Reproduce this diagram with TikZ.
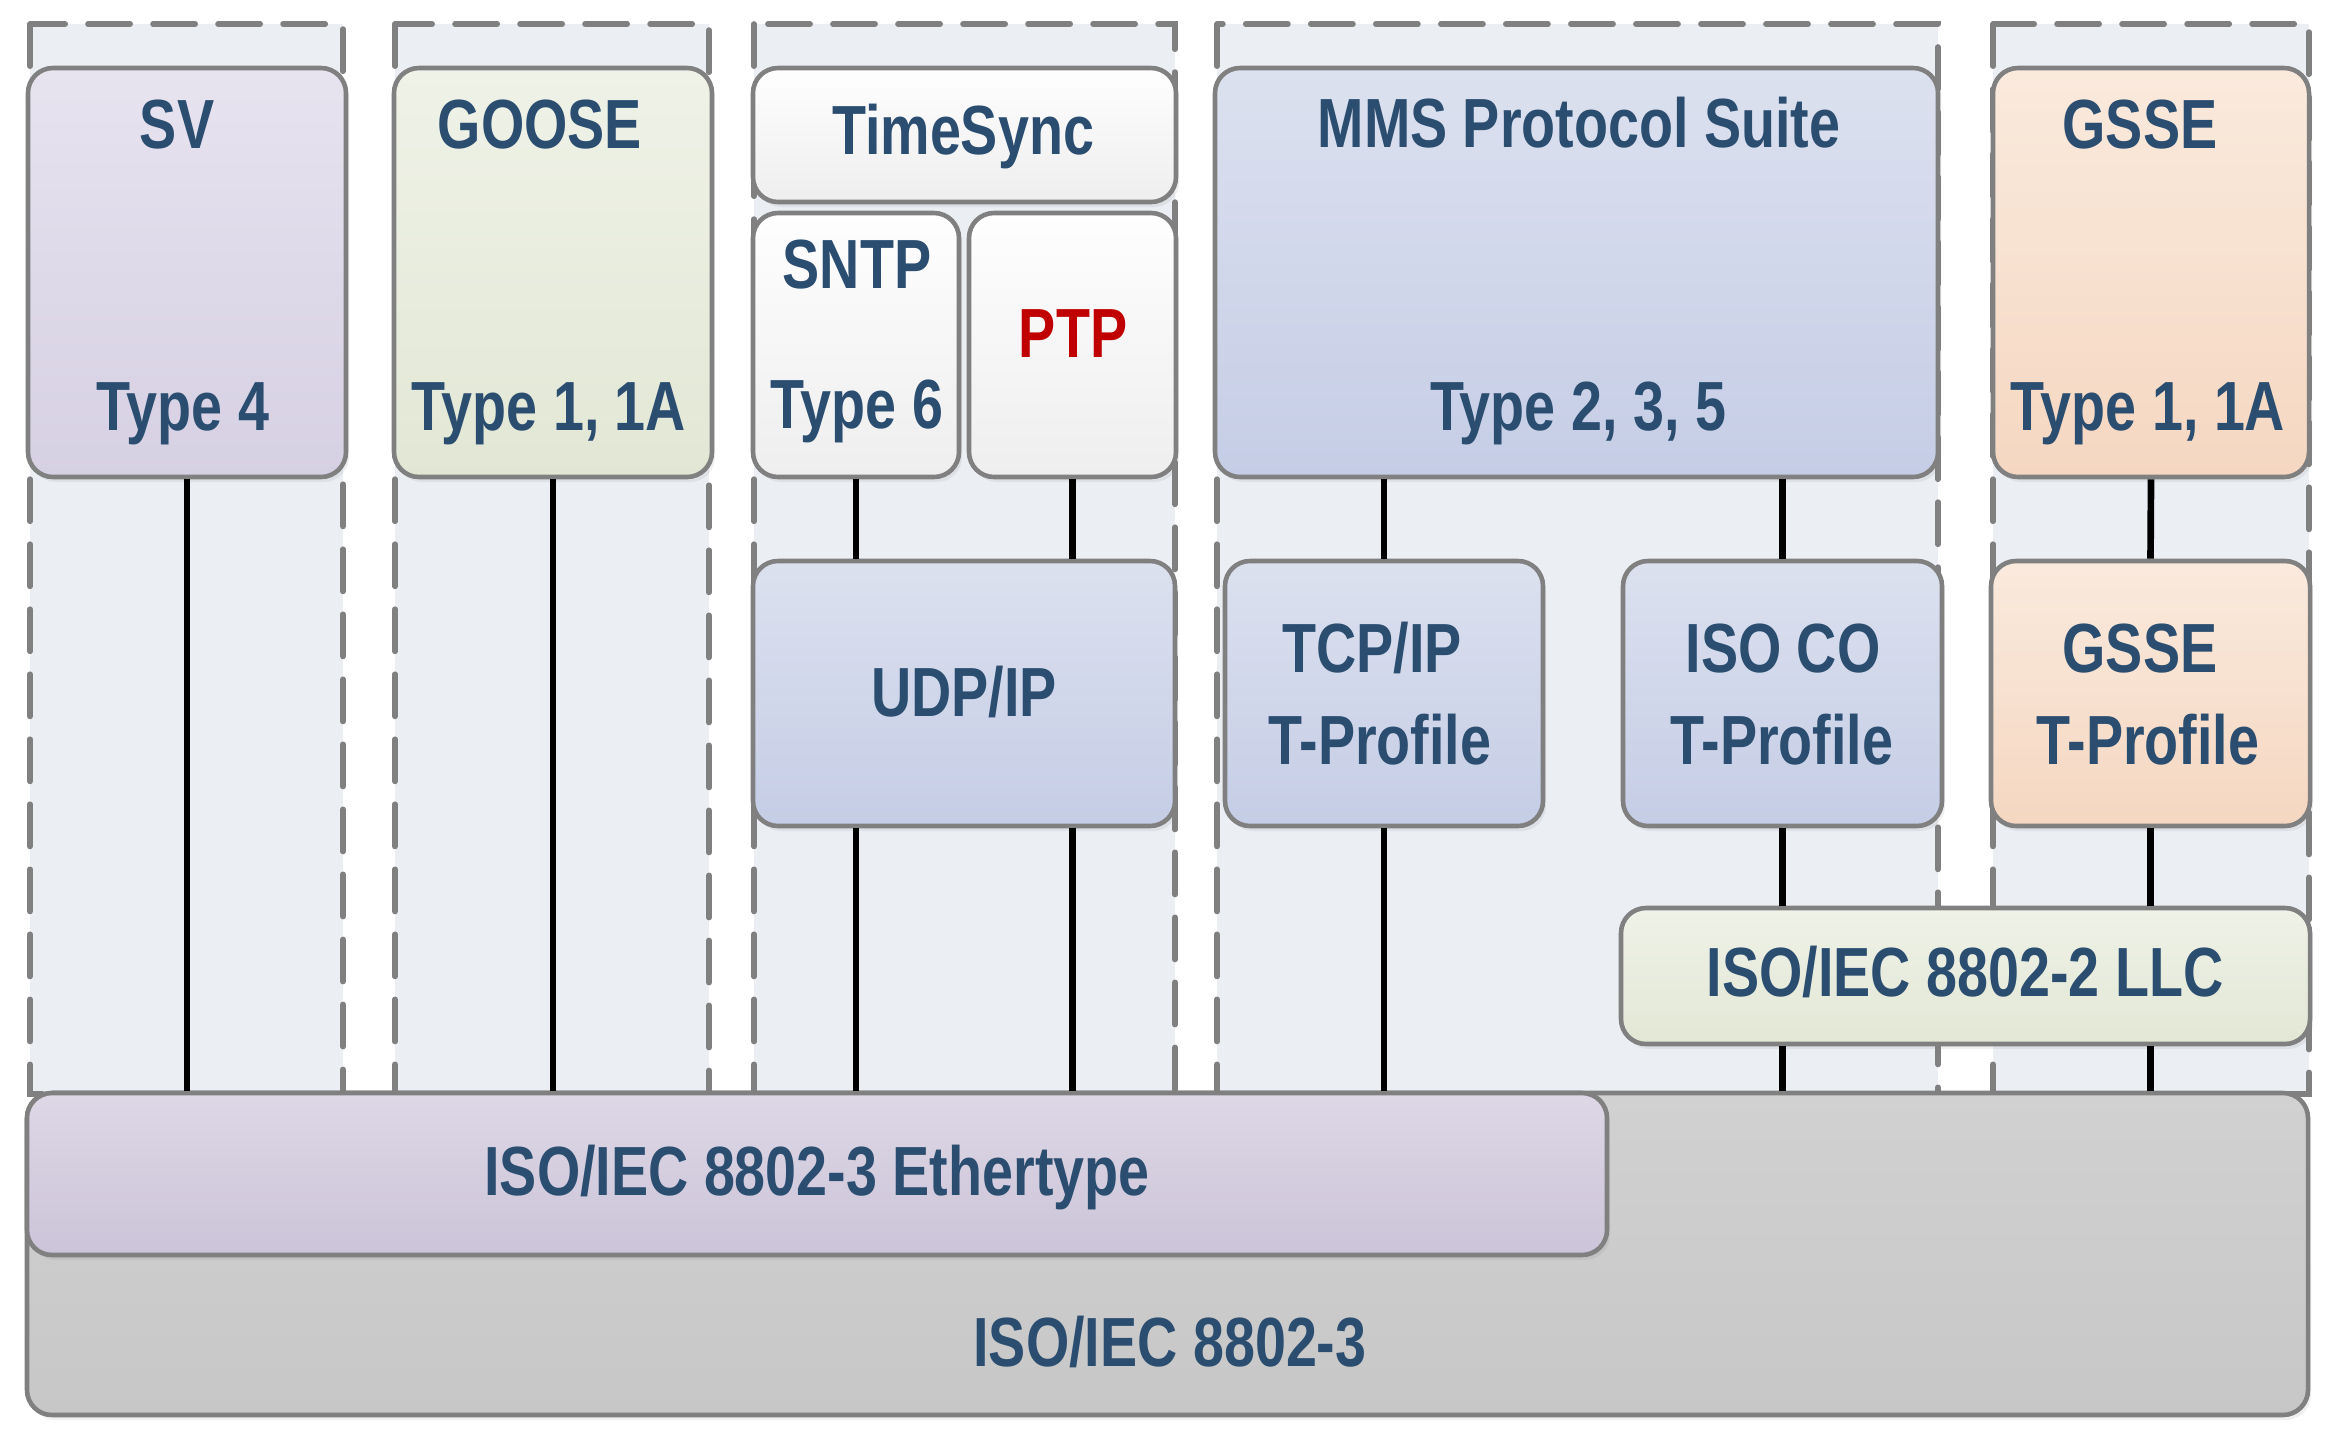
\documentclass[tikz,border=0pt]{standalone}
\usepackage{fontspec}
\newfontfamily\narrowsans[FakeStretch=0.80]{Liberation Sans}
\usetikzlibrary{shadows}
\definecolor{iecblue}{RGB}{42,77,112}
\definecolor{iecred}{RGB}{192,0,0}
\definecolor{iecgray}{RGB}{128,128,128}
\definecolor{lanebg}{RGB}{235,239,244}

\begin{document}
\begin{tikzpicture}[
    lbl/.style={font=\narrowsans\bfseries\fontsize{19.8}{22}\selectfont,
                text=iecblue,anchor=base,inner sep=0pt},
    blk/.style={draw=iecgray,line width=1.3pt,rounded corners=0.25cm,inner sep=0pt,
                drop shadow={shadow xshift=0.03cm,shadow yshift=-0.05cm,opacity=0.12}},
    lane/.style={draw=iecgray,fill=lanebg,line width=1.6pt,
                 dash pattern=on 12pt off 6.5pt,line cap=round},
    wire/.style={black,line width=1.9pt},
    svfill/.style={top color={rgb,255:red,231;green,227;blue,239},bottom color={rgb,255:red,214;green,208;blue,227}},
    goosefill/.style={top color={rgb,255:red,239;green,242;blue,231},bottom color={rgb,255:red,226;green,231;blue,213}},
    syncfill/.style={top color={rgb,255:red,254;green,254;blue,254},bottom color={rgb,255:red,238;green,238;blue,238}},
    mmsfill/.style={top color={rgb,255:red,220;green,225;blue,239},bottom color={rgb,255:red,197;green,205;blue,230}},
    gssefill/.style={top color={rgb,255:red,250;green,234;blue,221},bottom color={rgb,255:red,245;green,215;blue,193}},
    ethfill/.style={top color={rgb,255:red,221;green,215;blue,230},bottom color={rgb,255:red,204;green,196;blue,216}},
    basefill/.style={top color={rgb,255:red,209;green,209;blue,209},bottom color={rgb,255:red,199;green,199;blue,199}}]
  \useasboundingbox (0,0) rectangle (23.33,-14.43);

  %% Dashed lanes behind the stacks
  \foreach \xa/\xb in {0.30/3.43,3.95/7.09,7.54/11.75,12.17/19.38,19.93/23.09}
    \draw[lane] (\xa,-0.24) rectangle (\xb,-10.94);

  %% Physical layer
  \node[blk,basefill,minimum width=22.81cm,minimum height=3.22cm] (base) at (11.675,-12.54) {};
  \node[lbl] (basetxt) at (11.70,-13.66) {ISO/IEC 8802-3};
  \node[blk,ethfill,minimum width=15.80cm,minimum height=1.62cm] (eth) at (8.17,-11.74) {};
  \node[lbl] (ethtxt) at (8.17,-11.95) {ISO/IEC 8802-3 Ethertype};

  %% Application layer
  \node[blk,svfill,minimum width=3.18cm,minimum height=4.09cm] (sv) at (1.87,-2.725) {};
  \node[lbl] (svname) at (1.77,-1.48) {SV};
  \node[lbl] (svtype) at (1.83,-4.30) {Type 4};

  \node[blk,goosefill,minimum width=3.18cm,minimum height=4.09cm] (goose) at (5.53,-2.725) {};
  \node[lbl] (goosename) at (5.40,-1.48) {GOOSE};
  \node[lbl] (goosetype) at (5.49,-4.30) {Type 1, 1A};

  \node[blk,syncfill,minimum width=4.23cm,minimum height=1.34cm] (sync) at (9.645,-1.35) {};
  \node[lbl] (synctxt) at (9.63,-1.54) {TimeSync};
  \node[blk,syncfill,minimum width=2.06cm,minimum height=2.64cm] (sntp) at (8.56,-3.45) {};
  \node[lbl] (sntpname) at (8.57,-2.88) {SNTP};
  \node[lbl] (sntptype) at (8.57,-4.28) {Type 6};
  \node[blk,syncfill,minimum width=2.07cm,minimum height=2.64cm] (ptp) at (10.725,-3.45) {};
  \node[lbl,text=iecred] (ptptxt) at (10.73,-3.57) {PTP};

  \node[blk,mmsfill,minimum width=7.23cm,minimum height=4.09cm] (mms) at (15.765,-2.725) {};
  \node[lbl] (mmsname) at (15.79,-1.47) {MMS Protocol Suite};
  \node[lbl] (mmstype) at (15.78,-4.30) {Type 2, 3, 5};

  \node[blk,gssefill,minimum width=3.16cm,minimum height=4.09cm] (gsse) at (21.51,-2.725) {};
  \node[lbl] (gssename) at (21.40,-1.48) {GSSE};
  \node[lbl] (gssetype) at (21.48,-4.30) {Type 1, 1A};

  %% Transport profiles
  \node[blk,mmsfill,minimum width=4.22cm,minimum height=2.65cm] (udp) at (9.64,-6.935) {};
  \node[lbl] (udptxt) at (9.64,-7.16) {UDP/IP};
  \node[blk,mmsfill,minimum width=3.18cm,minimum height=2.65cm] (tcp) at (13.84,-6.935) {};
  \node[lbl] (tcpname) at (13.72,-6.72) {TCP/IP};
  \node[lbl] (tcpprof) at (13.80,-7.64) {T-Profile};
  \node[blk,mmsfill,minimum width=3.19cm,minimum height=2.65cm] (isoco) at (17.825,-6.935) {};
  \node[lbl] (isoname) at (17.83,-6.72) {ISO CO};
  \node[lbl] (isoprof) at (17.82,-7.64) {T-Profile};
  \node[blk,gssefill,minimum width=3.19cm,minimum height=2.65cm] (gssetp) at (21.505,-6.935) {};
  \node[lbl] (gssetpname) at (21.40,-6.72) {GSSE};
  \node[lbl] (gssetpprof) at (21.48,-7.64) {T-Profile};

  \node[blk,goosefill,minimum width=6.89cm,minimum height=1.36cm] (llc) at (19.655,-9.76) {};
  \node[lbl] (llctxt) at (19.65,-9.96) {ISO/IEC 8802-2 LLC};

  %% Connectors
  \draw[wire] (sv.south) -- (sv.south |- eth.north);
  \draw[wire] (goose.south) -- (goose.south |- eth.north);
  \draw[wire] (sntp.south) -- (sntp.south |- udp.north);
  \draw[wire] (sntp.south |- udp.south) -- (sntp.south |- eth.north);
  \draw[wire] (ptp.south) -- (ptp.south |- udp.north);
  \draw[wire] (ptp.south |- udp.south) -- (ptp.south |- eth.north);
  \draw[wire] (tcp.north |- mms.south) -- (tcp.north);
  \draw[wire] (tcp.south) -- (tcp.south |- eth.north);
  \draw[wire] (isoco.north |- mms.south) -- (isoco.north);
  \draw[wire] (isoco.south) -- (isoco.south |- llc.north);
  \draw[wire] (isoco.south |- llc.south) -- (isoco.south |- base.north);
  \draw[wire] (gsse.south) -- (gssetp.north);
  \draw[wire] (gssetp.south) -- (gssetp.south |- llc.north);
  \draw[wire] (gssetp.south |- llc.south) -- (gssetp.south |- base.north);
\end{tikzpicture}
\end{document}
